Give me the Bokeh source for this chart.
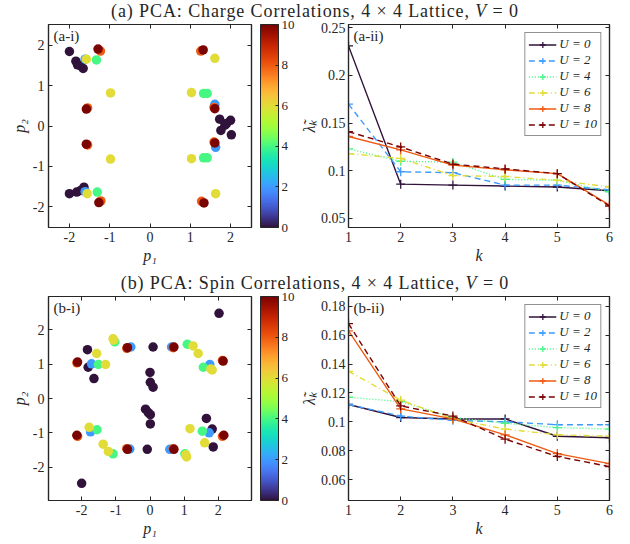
from bokeh.plotting import figure
from bokeh.models import (ColumnDataSource, LinearAxis, FixedTicker, PrintfTickFormatter,
                          ColorBar, LinearColorMapper, Label, Legend, LegendItem, Div,
                          AllLabels)
from bokeh.layouts import column, row
from bokeh.palettes import Turbo256
from bokeh.embed import file_html
from bokeh.resources import INLINE

FONT = "Liberation Serif"
TXT = "#262626"

# ---------------- data ----------------
u_values = [0, 2, 4, 6, 8, 10]
k_values = [1, 2, 3, 4, 5, 6]

# (a-ii) charge correlations, normalized eigenvalues
charge_u0 = [0.231, 0.086, 0.085, 0.084, 0.083, 0.079]
charge_u2 = [0.170, 0.099, 0.098, 0.085, 0.085, 0.080]
charge_u4 = [0.123, 0.110, 0.109, 0.091, 0.090, 0.078]
charge_u6 = [0.118, 0.113, 0.095, 0.094, 0.090, 0.083]
charge_u8 = [0.136, 0.122, 0.106, 0.101, 0.097, 0.064]
charge_u10 = [0.141, 0.125, 0.107, 0.102, 0.097, 0.063]

# (b-ii) spin correlations
spin_u0 = [0.112, 0.103, 0.102, 0.102, 0.090, 0.089]
spin_u2 = [0.112, 0.104, 0.101, 0.100, 0.098, 0.098]
spin_u4 = [0.117, 0.114, 0.103, 0.099, 0.096, 0.095]
spin_u6 = [0.135, 0.115, 0.102, 0.095, 0.091, 0.090]
spin_u8 = [0.163, 0.109, 0.102, 0.091, 0.078, 0.071]
spin_u10 = [0.168, 0.111, 0.104, 0.088, 0.076, 0.069]

# (a-i) PCA projections, charge
charge_p1 = [-2.00, -1.84, -1.80, -1.73, -1.66, -2.00, -1.82, -1.72, -1.64,
             1.73, 2.00, 1.86, 1.76, 2.02, 1.90,
             -1.61, -1.61, 1.61, 1.63,
             -1.33, -1.31, 1.33, 1.42, 1.33, 1.42,
             -1.58, -0.98, -0.98, -1.56, 1.61, 1.03, 1.03, 1.63,
             -1.23, -1.55, -1.55, -1.22, 1.26, 1.59, 1.59, 1.28,
             -1.29, -1.58, -1.58, -1.27, 1.32, 1.61, 1.61, 1.34]
charge_p2 = [1.85, 1.61, 1.52, 1.50, 1.43, -1.68, -1.64, -1.60, -1.52,
             0.17, 0.14, 0.02, -0.11, -0.22, 0.06,
             1.66, -1.63, 0.54, -0.53,
             1.64, -1.64, 0.81, 0.81, -0.79, -0.79,
             1.66, 0.82, -0.82, -1.68, 1.68, 0.83, -0.81, -1.68,
             1.86, 0.45, -0.47, -1.86, 1.86, 0.46, -0.40, -1.87,
             1.91, 0.42, -0.45, -1.90, 1.89, 0.43, -0.42, -1.91]
charge_u = [0] * 15 + [2] * 4 + [4] * 6 + [6] * 8 + [8] * 8 + [10] * 8

# (b-i) PCA projections, spin
spin_p1 = [-1.83, -1.81, -1.64, 0.09, 0.00, 0.01, 0.09, -0.13, -0.05, 0.01, 0.01, -0.08,
           -2.00, 2.02, 1.65, 1.82, 1.85,
           -1.71, -0.56, 0.63, 1.75, -1.74, -0.59, 0.58, 1.73,
           -1.51, -1.03, 1.09, 1.56, -1.55, -1.08, 1.02, 1.53,
           -1.56, -1.30, -1.06, -1.08, 1.26, 1.41, 1.82, 1.78,
           -1.78, -1.37, -1.22, 1.17, 1.07, 1.05, 1.60,
           -2.14, -0.68, 0.68, 2.12, -2.12, -0.68, 0.68, 2.12,
           -2.12, -0.66, 0.70, 2.14, -2.14, -0.66, 0.70, 2.16]
spin_p2 = [1.42, 0.91, 0.58, 1.50, 0.76, 0.47, 0.33, -0.31, -0.41, -0.47, -0.74, -1.48,
           -2.47, 2.48, -0.58, -0.89, -1.41,
           1.01, 1.50, 1.50, 0.99, -0.97, -1.47, -1.48, -1.00,
           0.99, 1.65, 1.58, 0.91, -0.91, -1.61, -1.61, -0.95,
           1.31, 0.99, 1.70, 1.74, 1.53, 1.31, 0.83, 0.86,
           -0.84, -1.33, -1.54, -0.88, -1.70, -1.64, -1.29,
           1.04, 1.46, 1.48, 1.11, -1.10, -1.46, -1.46, -1.10,
           1.06, 1.48, 1.50, 1.09, -1.07, -1.48, -1.48, -1.07]
spin_u = [0] * 17 + [2] * 8 + [4] * 8 + [6] * 15 + [8] * 8 + [10] * 8

axis_ticks = [-2, -1, 0, 1, 2]
cbar_ticks = [0, 2, 4, 6, 8, 10]
charge_yticks = [0.05, 0.1, 0.15, 0.2, 0.25]
spin_yticks = [0.06, 0.08, 0.1, 0.12, 0.14, 0.16, 0.18]

line_dashes = ["solid", "6 4", "1 2", "6 3 1 3", "solid", "6 4"]


def ucolor(u):
    return Turbo256[int(round(u / 10 * 255))]


def style_axis(ax, ticks, fmt, show_labels=True):
    ax.ticker = FixedTicker(ticks=ticks)
    ax.formatter = PrintfTickFormatter(format=fmt)
    ax.major_label_policy = AllLabels()
    ax.major_tick_in = 4
    ax.major_tick_out = 0
    ax.minor_tick_line_color = None
    ax.axis_line_color = TXT
    ax.axis_line_width = 1.2
    ax.major_tick_line_color = TXT
    ax.major_label_text_font = FONT
    ax.major_label_text_color = TXT
    ax.axis_label_text_font = FONT
    ax.axis_label_text_color = TXT
    ax.axis_label_text_font_size = "16px"
    ax.axis_label_text_font_style = "italic"
    if show_labels:
        ax.major_label_text_font_size = "14px"
        ax.major_label_standoff = 4
        ax.axis_label_standoff = 2
    else:
        ax.major_label_text_font_size = "0px"
        ax.major_label_standoff = 0


def base_fig(xr, yr, fw, fh, bl, br, bt, bb):
    p = figure(x_range=xr, y_range=yr, frame_width=fw, frame_height=fh,
               min_border_left=bl, min_border_right=br, min_border_top=bt,
               min_border_bottom=bb, output_backend="svg", toolbar_location=None,
               background_fill_color="white", border_fill_color=None)
    p.outline_line_color = TXT
    p.outline_line_width = 1.2
    p.xgrid.grid_line_color = None
    p.ygrid.grid_line_color = None
    p.margin = 0
    return p


def panel_label(p, text, fh):
    p.add_layout(Label(x=5, y=fh - 3, x_units="screen", y_units="screen", text=text,
                       text_font=FONT, text_font_size="15px", text_color=TXT,
                       text_baseline="top", text_align="left"))


def scatter_panel(p1, p2, uu, lim, fh, bt, bb, label):
    p = base_fig((-lim, lim), (-lim, lim), 203, fh, 48, 44, bt, bb)
    style_axis(p.xaxis[0], axis_ticks, "%d")
    style_axis(p.yaxis[0], axis_ticks, "%d")
    p.xaxis[0].axis_label = "p\u2081"
    p.yaxis[0].axis_label = "p\u2082"
    src = ColumnDataSource(dict(p1=p1, p2=p2, u=uu, c=[ucolor(v) for v in uu]))
    p.scatter("p1", "p2", source=src, size=9.5, color="c", line_color=None)
    # box ticks on top and right
    top = LinearAxis()
    style_axis(top, axis_ticks, "%d", show_labels=False)
    p.add_layout(top, "above")
    right = LinearAxis()
    style_axis(right, axis_ticks, "%d", show_labels=False)
    # tiny blank labels only reserve the gap between frame and colour bar
    right.major_label_text_font_size = "1px"
    right.major_label_text_color = "white"
    right.major_label_standoff = 5
    p.add_layout(right, "right")
    mapper = LinearColorMapper(palette=Turbo256, low=0, high=10)
    cb = ColorBar(color_mapper=mapper, ticker=FixedTicker(ticks=cbar_ticks),
                  formatter=PrintfTickFormatter(format="%d"),
                  width=18, height=fh, padding=0, margin=0,
                  major_label_text_font=FONT, major_label_text_font_size="13px",
                  major_label_text_color=TXT, major_tick_line_color=TXT,
                  major_tick_in=3, major_tick_out=0, label_standoff=3,
                  bar_line_color=TXT, bar_line_width=1.0,
                  border_line_color=None, background_fill_color=None)
    p.add_layout(cb, "right")
    panel_label(p, label, fh)
    return p


def line_panel(series, yr, yticks, fh, bt, bb, label):
    p = base_fig((1, 6), yr, 261, fh, 50, 19, bt, bb)
    style_axis(p.xaxis[0], k_values, "%d")
    style_axis(p.yaxis[0], yticks, "%g")
    p.yaxis[0].major_label_standoff = 3
    p.yaxis[0].axis_label_standoff = 0
    p.yaxis[0].axis_label_text_line_height = 1.0
    p.xaxis[0].axis_label = "k"
    p.yaxis[0].axis_label = "\u03bb\u0303\u2096"
    top = LinearAxis()
    style_axis(top, k_values, "%d", show_labels=False)
    p.add_layout(top, "above")
    right = LinearAxis()
    style_axis(right, yticks, "%g", show_labels=False)
    p.add_layout(right, "right")
    items = []
    for u, vals, dash in zip(u_values, series, line_dashes):
        col = ucolor(u)
        src = ColumnDataSource(dict(k=k_values, v=vals))
        lr = p.line("k", "v", source=src, line_color=col, line_width=1.4, line_dash=dash)
        sr = p.scatter("k", "v", source=src, marker="cross", size=9, line_color=col,
                       line_width=1.3)
        items.append(LegendItem(label=f"U = {u}", renderers=[lr, sr]))
    leg = Legend(items=items, location="top_right", margin=8, padding=3, spacing=0,
                 glyph_width=28, glyph_height=15, label_height=15, label_standoff=3,
                 label_text_font=FONT, label_text_font_size="13px",
                 label_text_font_style="italic", label_text_color=TXT,
                 border_line_color=TXT, border_line_width=1.2,
                 background_fill_color="white", background_fill_alpha=1.0)
    p.add_layout(leg)
    panel_label(p, label, fh)
    return p


def title_div(text, h):
    return Div(text=f'<div style="font-family:\'{FONT}\';font-size:18px;color:{TXT};'
                    f'letter-spacing:0.9px;text-align:center;width:630px;height:{h}px;'
                    f'line-height:22px;overflow:visible;white-space:nowrap;">{text}</div>',
               width=630, height=h, margin=0, styles={"overflow": "visible"})


a1 = scatter_panel(charge_p1, charge_p2, charge_u, 2.52, 203, 8, 46, "(a-i)")
a2 = line_panel([charge_u0, charge_u2, charge_u4, charge_u6, charge_u8, charge_u10],
                (0.0405, 0.2535), charge_yticks, 203, 9, 45, "(a-ii)")
b1 = scatter_panel(spin_p1, spin_p2, spin_u, 2.97, 204, 8, 46, "(b-i)")
b2 = line_panel([spin_u0, spin_u2, spin_u4, spin_u6, spin_u8, spin_u10],
                (0.0455, 0.1868), spin_yticks, 204, 10, 44, "(b-ii)")

layout = column(
    title_div("(a) PCA: Charge Correlations, 4 \u00d7 4 Lattice, <i>V</i> = 0", 15),
    row(a1, a2, spacing=0, margin=0),
    title_div("(b) PCA: Spin Correlations, 4 \u00d7 4 Lattice, <i>V</i> = 0", 14),
    row(b1, b2, spacing=0, margin=0),
    spacing=0, margin=0)

open("out.html", "w").write(file_html(layout, INLINE))
